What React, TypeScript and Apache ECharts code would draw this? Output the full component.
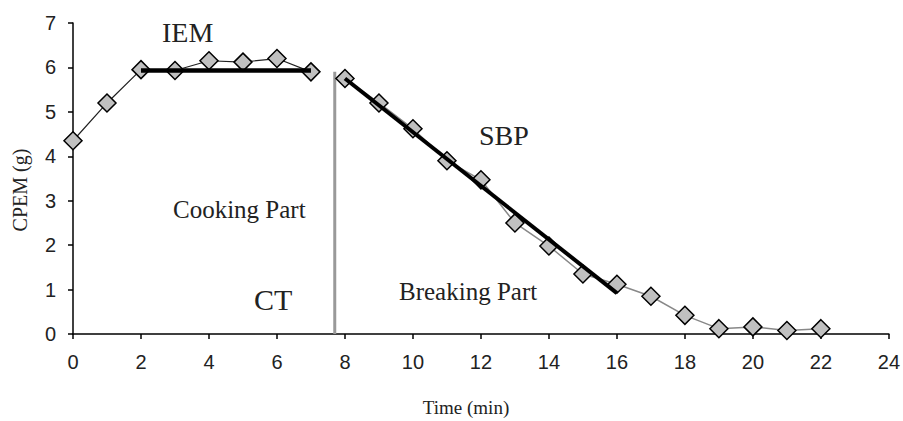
import React, { useEffect, useRef } from "react";
import * as echarts from "echarts";

const cookingX = [0, 1, 2, 3, 4, 5, 6, 7];
const cookingY = [4.35, 5.2, 5.95, 5.93, 6.15, 6.12, 6.2, 5.9];
const breakingX = [8, 9, 10, 11, 12, 13, 14, 15, 16, 17, 18, 19, 20, 21, 22];
const breakingY = [5.75, 5.2, 4.62, 3.9, 3.47, 2.5, 1.98, 1.35, 1.12, 0.85, 0.42, 0.12, 0.16, 0.08, 0.12];
const iemLine = [[2, 5.93], [7, 5.93]];
const sbpLine = [[8, 5.75], [16, 0.92]];
const ctLine = [[7.7, 0], [7.7, 5.9]];
const xTicks = { min: 0, max: 24, interval: 2 };
const yTicks = { min: 0, max: 7, interval: 1 };

const SERIF = "'Liberation Serif', 'DejaVu Serif', serif";
const SANS = "'Liberation Sans', Arial, sans-serif";

export default function App() {
  const ref = useRef<HTMLDivElement>(null);
  useEffect(() => {
    if (!ref.current) return;
    const chart = echarts.init(ref.current, undefined, { renderer: "svg" });
    const marker = {
      symbol: "diamond",
      symbolSize: 18,
      itemStyle: { color: "#c0c0c0", borderColor: "#000", borderWidth: 1.5 },
    };
    chart.setOption({
      animation: false,
      backgroundColor: "#fff",
      grid: { left: 73, right: 14, top: 23, bottom: 87 },
      xAxis: {
        type: "value",
        ...xTicks,
        axisLine: { show: true, lineStyle: { color: "#000", width: 1.5 } },
        axisTick: { show: true, length: 5, lineStyle: { color: "#000", width: 1.5 } },
        axisLabel: { fontFamily: SANS, fontSize: 20, color: "#222", margin: 18 },
        splitLine: { show: false },
      },
      yAxis: {
        type: "value",
        ...yTicks,
        axisLine: { show: true, lineStyle: { color: "#000", width: 1.5 } },
        axisTick: { show: true, length: 5, lineStyle: { color: "#000", width: 1.5 } },
        axisLabel: { fontFamily: SANS, fontSize: 20, color: "#222", margin: 17 },
        splitLine: { show: false },
      },
      series: [
        {
          type: "line",
          data: ctLine,
          symbol: "none",
          lineStyle: { color: "#999", width: 3 },
          z: 1,
        },
        {
          type: "line",
          data: cookingX.map((x, i) => [x, cookingY[i]]),
          lineStyle: { color: "#222", width: 1.2 },
          ...marker,
          z: 2,
        },
        {
          type: "line",
          data: breakingX.map((x, i) => [x, breakingY[i]]),
          lineStyle: { color: "#888", width: 1.5 },
          ...marker,
          z: 2,
        },
        {
          type: "line",
          data: iemLine,
          symbol: "none",
          lineStyle: { color: "#000", width: 4.5 },
          z: 3,
        },
        {
          type: "line",
          data: sbpLine,
          symbol: "none",
          lineStyle: { color: "#000", width: 4 },
          z: 3,
        },
      ],
      graphic: [
        { type: "text", left: 162, top: 18, style: { text: "IEM", font: `28px ${SERIF}`, fill: "#222" } },
        { type: "text", left: 479, top: 121, style: { text: "SBP", font: `28px ${SERIF}`, fill: "#222" } },
        { type: "text", left: 173, top: 197, style: { text: "Cooking Part", font: `25px ${SERIF}`, fill: "#222" } },
        { type: "text", left: 254, top: 284, style: { text: "CT", font: `30px ${SERIF}`, fill: "#222" } },
        { type: "text", left: 399, top: 279, style: { text: "Breaking Part", font: `25px ${SERIF}`, fill: "#222" } },
        {
          type: "text",
          x: 20,
          y: 190,
          rotation: Math.PI / 2,
          style: { text: "CPEM (g)", font: `20px ${SERIF}`, fill: "#222", align: "center", verticalAlign: "middle" },
        },
        {
          type: "text",
          x: 466,
          y: 407,
          style: { text: "Time (min)", font: `19px ${SERIF}`, fill: "#222", align: "center", verticalAlign: "middle" },
        },
      ],
    });
    return () => chart.dispose();
  }, []);
  return <div ref={ref} style={{ width: 903, height: 421, position: "absolute", left: 0, top: 0 }} />;
}
